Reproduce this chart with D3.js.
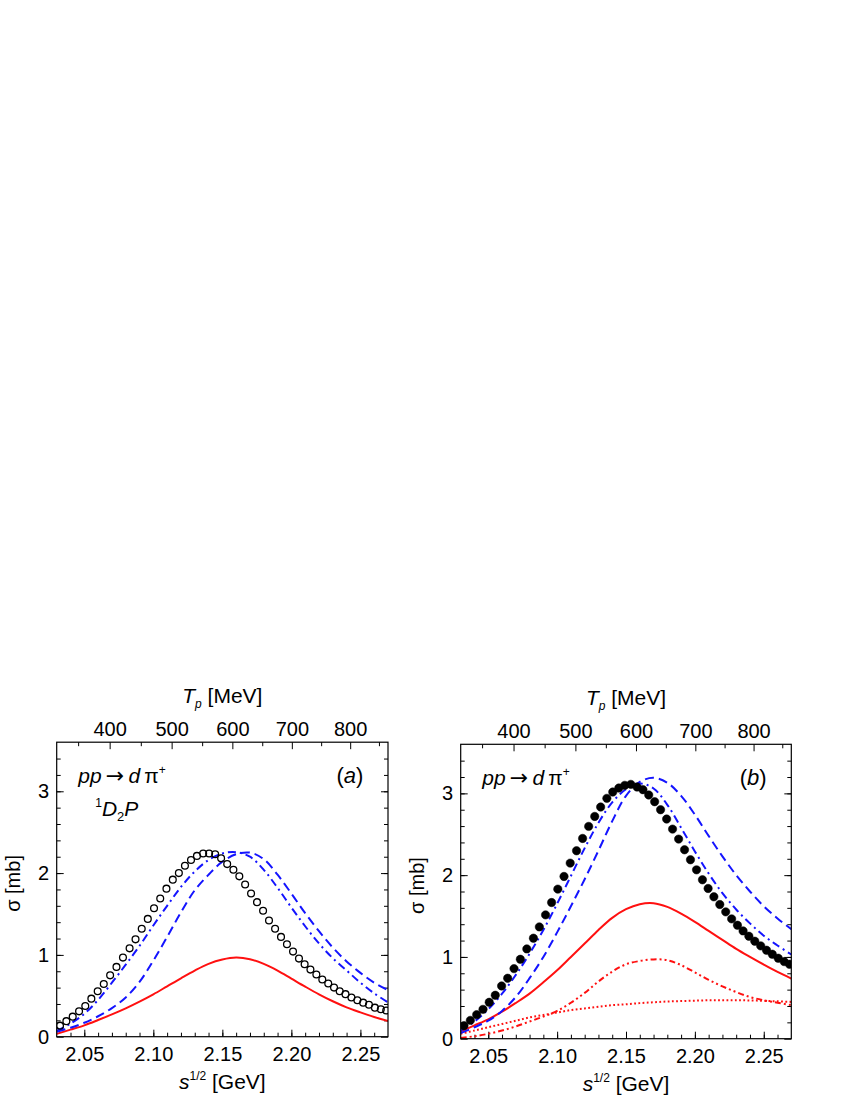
<!DOCTYPE html>
<html>
<head>
<meta charset="utf-8">
<script src="https://cdn.jsdelivr.net/npm/d3@7"></script>
<style>
body { margin: 0; background: #fff; }
svg text { font-family: "Liberation Sans", Arial, sans-serif; }
</style>
</head>
<body>
<div id="visual"></div>
<script>
// grid (sqrt(s) in GeV) used by the model curves
var curveS = [2.03, 2.04, 2.05, 2.06, 2.07, 2.08, 2.09, 2.10, 2.11, 2.12, 2.13, 2.14, 2.15,
    2.16, 2.17, 2.18, 2.19, 2.20, 2.21, 2.22, 2.23, 2.24, 2.25, 2.26, 2.27];

// sqrt(s) of the partial-wave points (same grid in both panels)
var pointS = [2.0324, 2.0370, 2.0416, 2.0462, 2.0507, 2.0551, 2.0597, 2.0641, 2.0687, 2.0733,
    2.0780, 2.0828, 2.0871, 2.0916, 2.0960, 2.1005, 2.1050, 2.1095, 2.1141, 2.1185,
    2.1229, 2.1273, 2.1316, 2.1361, 2.1404, 2.1448, 2.1491, 2.1535, 2.1580, 2.1623,
    2.1665, 2.1708, 2.1751, 2.1795, 2.1838, 2.1882, 2.1925, 2.1968, 2.2012, 2.2055,
    2.2096, 2.2138, 2.2181, 2.2224, 2.2267, 2.2309, 2.2350, 2.2392, 2.2435, 2.2478,
    2.2520, 2.2562, 2.2605, 2.2648, 2.2687];

// panel (a)
var circlesA = [0.135, 0.19, 0.245, 0.31, 0.375, 0.465, 0.555, 0.645, 0.75, 0.853,
    0.967, 1.08, 1.19, 1.32, 1.44, 1.57, 1.69, 1.81, 1.92, 2.0,
    2.09, 2.16, 2.21, 2.24, 2.24, 2.23, 2.18, 2.11, 2.04, 1.96,
    1.86, 1.75, 1.645, 1.54, 1.42, 1.32, 1.22, 1.13, 1.04, 0.955,
    0.886, 0.82, 0.76, 0.70, 0.65, 0.60, 0.555, 0.52, 0.48, 0.445,
    0.416, 0.39, 0.355, 0.335, 0.32];
var redSolidA = [0.035, 0.086, 0.139, 0.204, 0.273, 0.347, 0.429, 0.518, 0.616, 0.714, 0.808, 0.890, 0.943,
    0.967, 0.947, 0.890, 0.808, 0.710, 0.612, 0.518, 0.433, 0.359, 0.298, 0.241, 0.192];
var blueDashA = [0.06, 0.11, 0.17, 0.25, 0.35, 0.48, 0.67, 0.93, 1.22, 1.52, 1.79, 1.98, 2.14,
    2.23, 2.25, 2.17, 1.98, 1.75, 1.51, 1.29, 1.09, 0.92, 0.78, 0.66, 0.57];
var blueDashDotA = [0.07, 0.16, 0.28, 0.45, 0.66, 0.88, 1.11, 1.36, 1.60, 1.83, 2.02, 2.16, 2.24,
    2.255, 2.20, 2.04, 1.82, 1.58, 1.35, 1.14, 0.96, 0.81, 0.66, 0.53, 0.42];

// panel (b)
var dotsB = [0.159, 0.224, 0.294, 0.359, 0.445, 0.531, 0.645, 0.739, 0.857, 0.971,
    1.098, 1.229, 1.367, 1.514, 1.665, 1.829, 1.984, 2.147, 2.298, 2.449,
    2.596, 2.718, 2.833, 2.939, 3.016, 3.065, 3.098, 3.11, 3.078, 3.045,
    2.98, 2.898, 2.80, 2.686, 2.563, 2.441, 2.31, 2.188, 2.065, 1.943,
    1.837, 1.735, 1.641, 1.551, 1.465, 1.388, 1.318, 1.253, 1.192, 1.135,
    1.082, 1.033, 0.984, 0.943, 0.91];
var redSolidB = [0.09, 0.163, 0.237, 0.33, 0.437, 0.551, 0.69, 0.837, 1.0, 1.163, 1.33, 1.478, 1.584,
    1.645, 1.657, 1.612, 1.53, 1.429, 1.318, 1.208, 1.098, 1.0, 0.906, 0.816, 0.735];
var blueDashB = [0.07, 0.14, 0.22, 0.34, 0.51, 0.74, 1.00, 1.30, 1.62, 1.95, 2.30, 2.66, 2.97,
    3.14, 3.19, 3.13, 2.97, 2.74, 2.48, 2.23, 2.00, 1.80, 1.62, 1.47, 1.34];
var blueDashDotB = [0.10, 0.21, 0.36, 0.55, 0.78, 1.04, 1.33, 1.65, 1.99, 2.33, 2.64, 2.89, 3.05,
    3.12, 3.06, 2.86, 2.58, 2.29, 2.02, 1.78, 1.58, 1.41, 1.26, 1.14, 1.03];
var redDashDotDotB = [0.01, 0.03, 0.06, 0.10, 0.15, 0.21, 0.27, 0.34, 0.44, 0.56, 0.70, 0.82, 0.91,
    0.95, 0.97, 0.96, 0.90, 0.81, 0.72, 0.64, 0.57, 0.51, 0.47, 0.44, 0.41];
var redDotB = [0.06, 0.10, 0.14, 0.18, 0.22, 0.26, 0.29, 0.32, 0.35, 0.37, 0.39, 0.41, 0.42,
    0.435, 0.445, 0.455, 0.46, 0.465, 0.47, 0.47, 0.47, 0.468, 0.463, 0.457, 0.45];

// tick labels
var xTickLabels = [2.05, 2.10, 2.15, 2.20, 2.25];
var tpTickLabels = [400, 500, 600, 700, 800];
var tpMinorTicks = [350, 450, 550, 650, 750, 850];
var yTickLabels = [0, 1, 2, 3];

var nucleonMass = 0.939;
function tpToSqrtS(tp) {
    return Math.sqrt(4 * nucleonMass * nucleonMass + 2 * nucleonMass * tp / 1000);
}

var blue = '#1414ff', red = '#ff1010';

var svg = d3.select('#visual')
    .append('svg')
    .attr('width', 850)
    .attr('height', 1100);

function pairs(xs, ys) {
    return xs.map(function (v, i) { return [v, ys[i]]; });
}

function styleAxis(sel) {
    sel.select('.domain').remove();
    sel.attr('font-size', 20)
        .attr('font-family', '"Liberation Sans", Arial, sans-serif');
    sel.selectAll('line').attr('stroke', '#000').attr('stroke-width', 1);
}

function drawPanel(p) {
    var g = svg.append('g')
        .attr('transform', 'translate(' + p.left + ',' + p.top + ')');

    var x = d3.scaleLinear().domain([2.03, 2.27]).range([0, p.width]);
    var y = d3.scaleLinear().domain([0, 3.6]).range([p.height, 0]);

    var minorX = d3.range(2.04, 2.265, 0.01);
    var minorY = d3.range(0.2, 3.55, 0.2);

    // bottom
    g.append('g').attr('transform', 'translate(0,' + p.height + ')')
        .call(d3.axisBottom(x).tickValues(minorX).tickSize(-4).tickFormat(''))
        .call(styleAxis);
    g.append('g').attr('transform', 'translate(0,' + p.height + ')')
        .call(d3.axisBottom(x).tickValues(xTickLabels).tickSize(-7).tickPadding(10)
            .tickFormat(d3.format('.2f')))
        .call(styleAxis);

    // top (T_p)
    g.append('g')
        .call(d3.axisTop(x).tickValues(tpMinorTicks.map(tpToSqrtS)).tickSize(-4).tickFormat(''))
        .call(styleAxis);
    g.append('g')
        .call(d3.axisTop(x).tickValues(tpTickLabels.map(tpToSqrtS)).tickSize(-7).tickPadding(6)
            .tickFormat(function (d, i) { return tpTickLabels[i]; }))
        .call(styleAxis);

    // left
    g.append('g')
        .call(d3.axisLeft(y).tickValues(minorY).tickSize(-4).tickFormat(''))
        .call(styleAxis);
    g.append('g')
        .call(d3.axisLeft(y).tickValues(yTickLabels).tickSize(-7).tickPadding(7.5)
            .tickFormat(d3.format('d')))
        .call(styleAxis);

    // right
    g.append('g').attr('transform', 'translate(' + p.width + ',0)')
        .call(d3.axisRight(y).tickValues(minorY).tickSize(-4).tickFormat(''))
        .call(styleAxis);
    g.append('g').attr('transform', 'translate(' + p.width + ',0)')
        .call(d3.axisRight(y).tickValues(yTickLabels).tickSize(-7).tickFormat(''))
        .call(styleAxis);

    var clipId = 'clip-' + p.name;
    g.append('clipPath').attr('id', clipId)
        .append('rect').attr('width', p.width).attr('height', p.height);

    var plot = g.append('g').attr('clip-path', 'url(#' + clipId + ')');

    var line = d3.line()
        .x(function (d) { return x(d[0]); })
        .y(function (d) { return y(d[1]); })
        .curve(d3.curveCatmullRom);

    p.lines.forEach(function (l) {
        plot.append('path')
            .datum(pairs(curveS, l.values))
            .attr('fill', 'none')
            .attr('stroke', l.color)
            .attr('stroke-width', l.width)
            .attr('stroke-dasharray', l.dash)
            .attr('d', line);
    });

    plot.selectAll('circle')
        .data(pairs(pointS, p.points))
        .enter().append('circle')
        .attr('cx', function (d) { return x(d[0]); })
        .attr('cy', function (d) { return y(d[1]); })
        .attr('r', p.filled ? 4.2 : 3.4)
        .attr('fill', p.filled ? '#000' : 'none')
        .attr('stroke', '#000')
        .attr('stroke-width', p.filled ? 0.5 : 1.3);

    // frame
    g.append('rect')
        .attr('width', p.width).attr('height', p.height)
        .attr('fill', 'none').attr('stroke', '#000').attr('stroke-width', 1.2);

    // axis titles
    var top = g.append('text')
        .attr('x', p.width / 2).attr('y', -39)
        .attr('text-anchor', 'middle').attr('font-size', 21);
    top.append('tspan').attr('font-style', 'italic').text('T');
    top.append('tspan').attr('font-style', 'italic').attr('font-size', 12).attr('dy', 5).text('p');
    top.append('tspan').attr('dy', -5).text(' [MeV]');

    var bottom = g.append('text')
        .attr('x', p.width / 2).attr('y', p.height + 52)
        .attr('text-anchor', 'middle').attr('font-size', 21);
    bottom.append('tspan').attr('font-style', 'italic').text('s');
    bottom.append('tspan').attr('font-size', 12).attr('dy', -9).text('1/2');
    bottom.append('tspan').attr('dy', 9).text(' [GeV]');

    g.append('text')
        .attr('transform', 'translate(-37,' + (p.height / 2 - 6) + ') rotate(-90)')
        .attr('text-anchor', 'middle').attr('font-size', 20)
        .text('\u03c3 [mb]');

    // annotations
    var reac = g.append('text')
        .attr('x', 21.5).attr('y', 41).attr('font-size', 21);
    reac.append('tspan').attr('font-style', 'italic').text('pp\u2009');
    reac.append('tspan').attr('font-family', '"DejaVu Sans", sans-serif')
        .attr('font-size', 22).text('\u2192');
    reac.append('tspan').text('\u2009');
    reac.append('tspan').attr('font-style', 'italic').text('d');
    reac.append('tspan').text('\u2009\u03c0');
    reac.append('tspan').attr('font-size', 12).attr('dy', -9).text('+');

    if (p.wave) {
        var wave = g.append('text')
            .attr('x', 38.5).attr('y', 74).attr('font-size', 21);
        wave.append('tspan').attr('font-size', 12).attr('dy', -9).text('1');
        wave.append('tspan').attr('font-style', 'italic').attr('dy', 9).text('D');
        wave.append('tspan').attr('font-size', 13).attr('dy', 5).text('2');
        wave.append('tspan').attr('font-style', 'italic').attr('dy', -5).text('P');
    }

    var lab = g.append('text')
        .attr('x', p.width - 24.6).attr('y', 41)
        .attr('text-anchor', 'end').attr('font-size', 22);
    lab.append('tspan').text('(');
    lab.append('tspan').attr('font-style', 'italic').text(p.name);
    lab.append('tspan').text(')');
}

drawPanel({
    name: 'a', left: 56.7, top: 742.2, width: 331.3, height: 294.5,
    wave: true, points: circlesA, filled: false,
    lines: [
        { values: redSolidA, color: red, width: 2, dash: null },
        { values: blueDashA, color: blue, width: 2, dash: '9,5' },
        { values: blueDashDotA, color: blue, width: 2, dash: '8,4,2,4' }
    ]
});

drawPanel({
    name: 'b', left: 460.7, top: 744.3, width: 330.6, height: 294.4,
    wave: false, points: dotsB, filled: true,
    lines: [
        { values: redDotB, color: red, width: 2, dash: '1.8,2.4' },
        { values: redDashDotDotB, color: red, width: 2, dash: '6,3,2,3,2,3' },
        { values: redSolidB, color: red, width: 2, dash: null },
        { values: blueDashB, color: blue, width: 2, dash: '9,5' },
        { values: blueDashDotB, color: blue, width: 2, dash: '8,4,2,4' }
    ]
});
</script>
</body>
</html>
